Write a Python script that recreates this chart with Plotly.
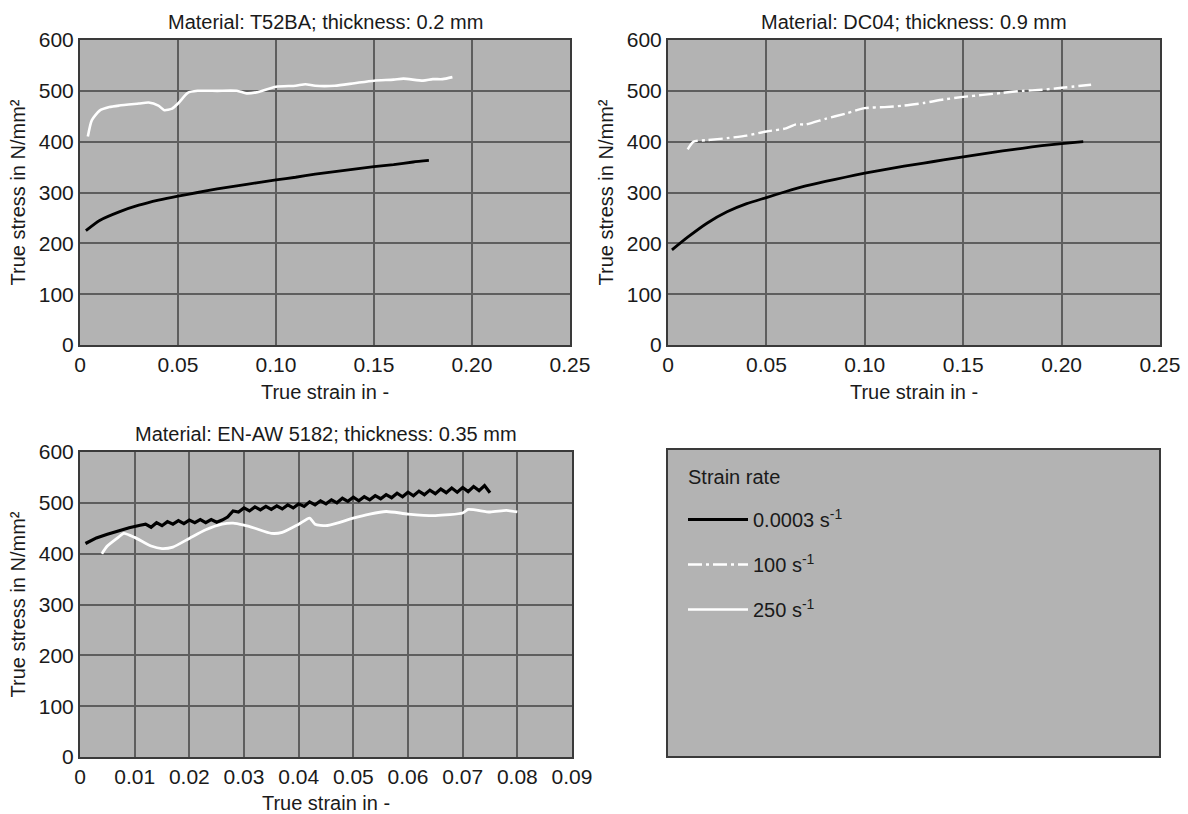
import plotly.graph_objects as go

# ---------------- data ----------------
# Panel 1: T52BA, 0.2 mm
t52_slow_x = [0.003, 0.01, 0.02, 0.03, 0.04, 0.05, 0.06, 0.07, 0.08, 0.09, 0.10, 0.11, 0.12, 0.13, 0.14, 0.15, 0.16, 0.17, 0.178]
t52_slow_y = [225, 245, 262, 275, 285, 293, 300, 307, 313, 319, 325, 330, 336, 341, 346, 351, 355, 360, 363]
t52_fast_x = [0.004, 0.006, 0.01, 0.015, 0.02, 0.03, 0.035, 0.04, 0.043, 0.047, 0.05, 0.055, 0.06, 0.07, 0.08, 0.085, 0.09,
              0.10, 0.11, 0.115, 0.12, 0.13, 0.14, 0.15, 0.16, 0.165, 0.175, 0.18, 0.185, 0.19]
t52_fast_y = [410, 442, 461, 468, 471, 475, 477, 471, 462, 465, 475, 496, 500, 500, 500, 495, 497,
              508, 510, 513, 510, 510, 515, 520, 522, 524, 520, 523, 523, 527]

# Panel 2: DC04, 0.9 mm
dc04_slow_x = [0.002, 0.01, 0.02, 0.03, 0.04, 0.05, 0.06, 0.07, 0.08, 0.09, 0.10, 0.11, 0.12, 0.13, 0.14, 0.15, 0.16, 0.17, 0.18, 0.19, 0.20, 0.211]
dc04_slow_y = [187, 212, 240, 262, 278, 290, 302, 313, 322, 330, 338, 345, 352, 358, 364, 370, 376, 382, 387, 392, 396, 400]
dc04_mid_x = [0.01, 0.013, 0.02, 0.03, 0.04, 0.05, 0.06, 0.065, 0.07, 0.08, 0.09, 0.10, 0.11, 0.12, 0.13, 0.14, 0.15, 0.16, 0.17, 0.18, 0.19, 0.20, 0.215]
dc04_mid_y = [385, 400, 403, 407, 412, 420, 426, 434, 434, 445, 455, 466, 468, 471, 476, 483, 488, 492, 496, 500, 502, 506, 512]

# Panel 3: EN-AW 5182, 0.35 mm
al_slow_x = [0.001, 0.003, 0.005, 0.007, 0.009, 0.011,
             0.012, 0.013, 0.014, 0.015, 0.016, 0.017, 0.018, 0.019, 0.020, 0.021, 0.022, 0.023, 0.024, 0.025, 0.026,
             0.027, 0.028, 0.029, 0.030, 0.031, 0.032, 0.033, 0.034, 0.035, 0.036, 0.037, 0.038, 0.039, 0.040,
             0.041, 0.042, 0.043, 0.044, 0.045, 0.046, 0.047, 0.048, 0.049, 0.050, 0.051, 0.052, 0.053, 0.054,
             0.055, 0.056, 0.057, 0.058, 0.059, 0.060, 0.061, 0.062, 0.063, 0.064, 0.065, 0.066, 0.067, 0.068,
             0.069, 0.070, 0.071, 0.072, 0.073, 0.074, 0.075]
al_slow_y = [420, 431, 438, 445, 451, 456,
             458, 452, 461, 455, 463, 458, 465, 459, 466, 461, 467, 461, 467, 462, 466,
             472, 484, 482, 490, 484, 492, 486, 493, 487, 494, 488, 496, 490, 498,
             493, 502, 496, 504, 498, 506, 500, 509, 503, 511, 504, 512, 506, 514,
             508, 516, 510, 519, 512, 521, 514, 523, 516, 525, 518, 527, 520, 529,
             521, 530, 522, 532, 524, 534, 520]
al_fast_x = [0.004, 0.005, 0.007, 0.008, 0.01, 0.013, 0.015, 0.017, 0.02, 0.023, 0.026, 0.028, 0.03, 0.032, 0.035, 0.037,
             0.04, 0.042, 0.043, 0.045, 0.047, 0.05, 0.053, 0.056, 0.06, 0.065, 0.07, 0.071, 0.075, 0.078, 0.08]
al_fast_y = [400, 415, 432, 440, 432, 415, 410, 413, 430, 447, 458, 460, 456, 450, 440, 442,
             458, 470, 458, 455, 460, 470, 478, 483, 478, 475, 480, 487, 482, 485, 482]

panel_titles = ["Material: T52BA; thickness: 0.2 mm",
                "Material: DC04; thickness: 0.9 mm",
                "Material: EN-AW 5182; thickness: 0.35 mm"]
y_ticks = [0, 100, 200, 300, 400, 500, 600]
x_ticks_a = [0, 0.05, 0.10, 0.15, 0.20, 0.25]
x_ticktext_a = ["0", "0.05", "0.10", "0.15", "0.20", "0.25"]
x_ticks_b = [0, 0.01, 0.02, 0.03, 0.04, 0.05, 0.06, 0.07, 0.08, 0.09]
x_ticktext_b = ["0", "0.01", "0.02", "0.03", "0.04", "0.05", "0.06", "0.07", "0.08", "0.09"]
legend_title = "Strain rate"
legend_names = ["0.0003 s<sup>-1</sup>", "100 s<sup>-1</sup>", "250 s<sup>-1</sup>"]

# ---------------- styling ----------------
W, H = 1188, 814
BG = "#b3b3b3"
GRID = "#5e5e5e"
BORDER = "#3a3a3a"
TXT = "#1a1a1a"
FONT = "Liberation Sans, Arial, sans-serif"

def px_x(p):
    return p / W

def px_y(p):
    return 1 - p / H

dom = {
    1: ([px_x(80), px_x(570)], [px_y(345), px_y(40)]),
    2: ([px_x(668), px_x(1160)], [px_y(345), px_y(40)]),
    3: ([px_x(80), px_x(572)], [px_y(757), px_y(452)]),
}
legend_box = (px_x(667), px_y(757), px_x(1160), px_y(449))

fig = go.Figure()

def add(x, y, ax, color, width, dash, name, group, show, rank, smooth=True):
    sfx = "" if ax == 1 else str(ax)
    fig.add_trace(go.Scatter(
        x=x, y=y, mode="lines", xaxis="x" + sfx, yaxis="y" + sfx,
        line=dict(color=color, width=width, dash=dash,
                  shape="spline" if smooth else "linear", smoothing=0.6),
        name=name, legendgroup=group, showlegend=show, legendrank=rank))

add(t52_slow_x, t52_slow_y, 1, "black", 2.8, "solid", legend_names[0], "g1", True, 1)
add(t52_fast_x, t52_fast_y, 1, "white", 2.6, "solid", legend_names[2], "g3", True, 3)
add(dc04_slow_x, dc04_slow_y, 2, "black", 2.8, "solid", legend_names[0], "g1", False, 1)
add(dc04_mid_x, dc04_mid_y, 2, "white", 2.4, "14px,4px,3px,4px", legend_names[1], "g2", True, 2)
add(al_slow_x, al_slow_y, 3, "black", 3.2, "solid", legend_names[0], "g1", False, 1, smooth=False)
add(al_fast_x, al_fast_y, 3, "white", 2.8, "solid", legend_names[2], "g3", False, 3)

layout = dict(
    width=W, height=H,
    margin=dict(l=0, r=0, t=0, b=0),
    paper_bgcolor="white",
    plot_bgcolor=BG,
    font=dict(family=FONT, color=TXT, size=20),
    showlegend=True,
    legend=dict(
        x=px_x(683), y=px_y(500), xanchor="left", yanchor="top",
        bgcolor="rgba(0,0,0,0)", borderwidth=0,
        font=dict(size=20, family=FONT, color=TXT), traceorder="grouped", tracegroupgap=16,
        itemwidth=60,
    ),
)

def xaxis(n, ticks, text, rng):
    return dict(domain=dom[n][0], anchor="y" + ("" if n == 1 else str(n)),
                range=rng, tickvals=ticks, ticktext=text, automargin=False,
                showgrid=True, gridcolor=GRID, gridwidth=1.5,
                showline=True, linecolor=BORDER, linewidth=2, mirror=True,
                zeroline=False, ticks="", tickfont=dict(size=21, family=FONT, color=TXT),
                title=dict(text="True strain in -", font=dict(size=20, family=FONT, color=TXT), standoff=10))

def yaxis(n):
    return dict(domain=dom[n][1], anchor="x" + ("" if n == 1 else str(n)),
                range=[0, 600], tickvals=y_ticks, automargin=False,
                showgrid=True, gridcolor=GRID, gridwidth=1.5,
                showline=True, linecolor=BORDER, linewidth=2, mirror=True,
                zeroline=False, ticks="", tickfont=dict(size=21, family=FONT, color=TXT),
                title=dict(text="True stress in N/mm²", font=dict(size=20, family=FONT, color=TXT), standoff=8))

layout["xaxis"] = xaxis(1, x_ticks_a, x_ticktext_a, [0, 0.25])
layout["yaxis"] = yaxis(1)
layout["xaxis2"] = xaxis(2, x_ticks_a, x_ticktext_a, [0, 0.25])
layout["yaxis2"] = yaxis(2)
layout["xaxis3"] = xaxis(3, x_ticks_b, x_ticktext_b, [0, 0.09])
layout["yaxis3"] = yaxis(3)

fig.update_layout(**layout)

annotations = []
for n, txt in zip([1, 2, 3], panel_titles):
    xd, yd = dom[n]
    annotations.append(dict(text=txt, x=(xd[0] + xd[1]) / 2, y=yd[1], xref="paper", yref="paper",
                            xanchor="center", yanchor="bottom", yshift=5, showarrow=False,
                            font=dict(size=20, family=FONT, color=TXT)))
annotations.append(dict(text=legend_title, x=px_x(686), y=px_y(477), xref="paper", yref="paper",
                        xanchor="left", yanchor="middle", showarrow=False,
                        font=dict(size=20, family=FONT, color=TXT)))
fig.update_layout(annotations=annotations)

fig.add_shape(type="rect", xref="paper", yref="paper",
              x0=legend_box[0], y0=legend_box[1], x1=legend_box[2], y1=legend_box[3],
              fillcolor=BG, line=dict(color=BORDER, width=2), layer="below")

fig.write_html("out.html", config={"displayModeBar": False},
               post_script="document.body.style.margin='0';document.body.style.padding='0';")
